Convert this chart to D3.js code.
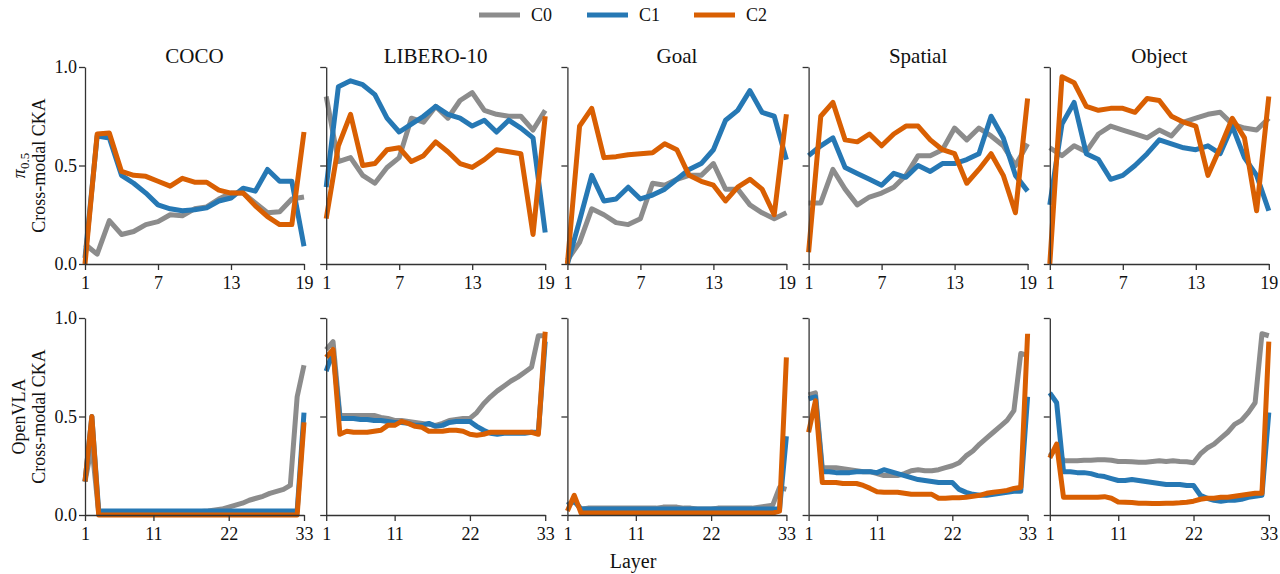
<!DOCTYPE html>
<html>
<head>
<meta charset="utf-8">
<script src="https://cdn.jsdelivr.net/npm/d3@7"></script>
<style>
  body { margin: 0; background: #fff; }
  svg text { font-family: "Liberation Serif", "DejaVu Serif", serif; }
</style>
</head>
<body>
<svg id="chart" width="1280" height="574"></svg>
<script>
// categories
const tasks = ["COCO", "LIBERO-10", "Goal", "Spatial", "Object"];
const series = ["C0", "C1", "C2"];
const colors = ["#8c8c8c", "#2678b4", "#d95f02"];
const piTicks = [1, 7, 13, 19];
const vlaTicks = [1, 11, 22, 33];
const yTicks = [0, 0.5, 1.0];

// pi0.5 row, layers 1..19
const piCocoC0 = [0.10, 0.05, 0.22, 0.15, 0.165, 0.20, 0.215, 0.25, 0.245, 0.28, 0.29, 0.33, 0.36, 0.36, 0.31, 0.26, 0.265, 0.33, 0.34];
const piCocoC1 = [0.03, 0.65, 0.64, 0.45, 0.41, 0.36, 0.30, 0.28, 0.27, 0.275, 0.285, 0.32, 0.335, 0.385, 0.37, 0.48, 0.42, 0.42, 0.09];
const piCocoC2 = [0.00, 0.66, 0.665, 0.47, 0.45, 0.445, 0.42, 0.395, 0.435, 0.415, 0.415, 0.375, 0.36, 0.36, 0.295, 0.24, 0.20, 0.20, 0.67];

const piLiberoC0 = [0.85, 0.52, 0.54, 0.45, 0.41, 0.49, 0.54, 0.74, 0.72, 0.80, 0.74, 0.83, 0.87, 0.78, 0.76, 0.75, 0.75, 0.68, 0.78];
const piLiberoC1 = [0.39, 0.90, 0.93, 0.91, 0.86, 0.74, 0.67, 0.71, 0.75, 0.80, 0.76, 0.74, 0.70, 0.73, 0.67, 0.73, 0.69, 0.64, 0.16];
const piLiberoC2 = [0.23, 0.60, 0.76, 0.50, 0.51, 0.58, 0.59, 0.52, 0.55, 0.62, 0.57, 0.51, 0.49, 0.53, 0.58, 0.57, 0.56, 0.15, 0.75];

const piGoalC0 = [0.02, 0.11, 0.28, 0.25, 0.21, 0.20, 0.23, 0.41, 0.40, 0.43, 0.45, 0.45, 0.51, 0.38, 0.38, 0.30, 0.26, 0.23, 0.26];
const piGoalC1 = [0.00, 0.22, 0.45, 0.32, 0.33, 0.39, 0.33, 0.35, 0.38, 0.43, 0.48, 0.51, 0.58, 0.73, 0.78, 0.88, 0.77, 0.75, 0.53];
const piGoalC2 = [0.00, 0.70, 0.79, 0.54, 0.545, 0.555, 0.56, 0.565, 0.61, 0.58, 0.45, 0.42, 0.40, 0.32, 0.39, 0.43, 0.38, 0.25, 0.76];

const piSpatialC0 = [0.31, 0.31, 0.48, 0.38, 0.30, 0.34, 0.36, 0.39, 0.45, 0.55, 0.55, 0.58, 0.69, 0.63, 0.69, 0.65, 0.60, 0.50, 0.61];
const piSpatialC1 = [0.55, 0.60, 0.64, 0.49, 0.46, 0.43, 0.40, 0.46, 0.44, 0.50, 0.47, 0.51, 0.51, 0.53, 0.56, 0.75, 0.64, 0.45, 0.37];
const piSpatialC2 = [0.06, 0.75, 0.82, 0.63, 0.62, 0.66, 0.60, 0.66, 0.70, 0.70, 0.63, 0.58, 0.56, 0.41, 0.48, 0.56, 0.45, 0.26, 0.84];

const piObjectC0 = [0.59, 0.55, 0.60, 0.57, 0.66, 0.70, 0.68, 0.66, 0.64, 0.68, 0.65, 0.72, 0.74, 0.76, 0.77, 0.71, 0.69, 0.68, 0.74];
const piObjectC1 = [0.30, 0.71, 0.82, 0.56, 0.53, 0.43, 0.45, 0.50, 0.56, 0.63, 0.61, 0.59, 0.58, 0.60, 0.56, 0.70, 0.54, 0.45, 0.27];
const piObjectC2 = [0.00, 0.95, 0.92, 0.80, 0.78, 0.79, 0.79, 0.77, 0.84, 0.83, 0.75, 0.72, 0.70, 0.45, 0.59, 0.74, 0.64, 0.27, 0.85];

// OpenVLA row, layers 1..33
const vlaCocoC0 = [0.17, 0.35, 0.01, 0.012, 0.012, 0.012, 0.012, 0.012, 0.012, 0.012,
  0.012, 0.012, 0.012, 0.012, 0.012, 0.012, 0.015, 0.018, 0.02, 0.025,
  0.03, 0.04, 0.05, 0.06, 0.075, 0.085, 0.095, 0.11, 0.12, 0.13,
  0.15, 0.60, 0.76];
const vlaCocoC1 = [0.17, 0.50, 0.02, 0.02, 0.02, 0.02, 0.02, 0.02, 0.02, 0.02,
  0.02, 0.02, 0.02, 0.02, 0.02, 0.02, 0.02, 0.02, 0.02, 0.02,
  0.02, 0.02, 0.02, 0.02, 0.02, 0.02, 0.02, 0.02, 0.02, 0.02,
  0.02, 0.02, 0.52];
const vlaCocoC2 = [0.17, 0.50, 0.00, 0.00, 0.00, 0.00, 0.00, 0.00, 0.00, 0.00,
  0.00, 0.00, 0.00, 0.00, 0.00, 0.00, 0.00, 0.00, 0.00, 0.00,
  0.00, 0.00, 0.00, 0.00, 0.00, 0.00, 0.00, 0.00, 0.00, 0.00,
  0.00, 0.00, 0.47];

const vlaLiberoC0 = [0.84, 0.88, 0.505, 0.505, 0.505, 0.505, 0.505, 0.505, 0.495, 0.49,
  0.48, 0.48, 0.475, 0.47, 0.465, 0.46, 0.455, 0.465, 0.48, 0.485,
  0.49, 0.49, 0.52, 0.565, 0.60, 0.63, 0.655, 0.68, 0.70, 0.725,
  0.75, 0.91, 0.91];
const vlaLiberoC1 = [0.73, 0.83, 0.49, 0.49, 0.49, 0.485, 0.485, 0.48, 0.48, 0.475,
  0.47, 0.47, 0.465, 0.455, 0.455, 0.465, 0.45, 0.455, 0.47, 0.475,
  0.475, 0.475, 0.45, 0.43, 0.415, 0.41, 0.415, 0.415, 0.415, 0.415,
  0.42, 0.42, 0.88];
const vlaLiberoC2 = [0.80, 0.84, 0.41, 0.425, 0.42, 0.42, 0.42, 0.425, 0.43, 0.455,
  0.455, 0.475, 0.465, 0.45, 0.445, 0.425, 0.425, 0.425, 0.43, 0.43,
  0.425, 0.41, 0.405, 0.41, 0.42, 0.42, 0.42, 0.42, 0.42, 0.42,
  0.42, 0.41, 0.93];

const vlaGoalC0 = [0.05, 0.07, 0.03, 0.035, 0.035, 0.035, 0.035, 0.035, 0.035, 0.035,
  0.035, 0.035, 0.035, 0.035, 0.04, 0.04, 0.04, 0.035, 0.035, 0.03,
  0.03, 0.03, 0.035, 0.035, 0.035, 0.035, 0.035, 0.035, 0.04, 0.045,
  0.05, 0.14, 0.13];
const vlaGoalC1 = [0.05, 0.07, 0.03, 0.03, 0.03, 0.03, 0.03, 0.03, 0.03, 0.03,
  0.03, 0.03, 0.03, 0.03, 0.03, 0.03, 0.03, 0.03, 0.03, 0.03,
  0.03, 0.03, 0.03, 0.03, 0.03, 0.03, 0.03, 0.03, 0.03, 0.03,
  0.03, 0.03, 0.40];
const vlaGoalC2 = [0.02, 0.10, 0.01, 0.01, 0.01, 0.01, 0.01, 0.01, 0.01, 0.01,
  0.01, 0.01, 0.01, 0.01, 0.01, 0.01, 0.01, 0.01, 0.01, 0.01,
  0.01, 0.01, 0.01, 0.01, 0.01, 0.01, 0.01, 0.01, 0.01, 0.01,
  0.01, 0.02, 0.80];

const vlaSpatialC0 = [0.61, 0.62, 0.24, 0.24, 0.24, 0.235, 0.23, 0.225, 0.22, 0.22,
  0.21, 0.20, 0.20, 0.20, 0.21, 0.225, 0.23, 0.225, 0.225, 0.23,
  0.24, 0.25, 0.265, 0.30, 0.325, 0.36, 0.39, 0.42, 0.45, 0.48,
  0.53, 0.82, 0.81];
const vlaSpatialC1 = [0.59, 0.60, 0.22, 0.22, 0.215, 0.215, 0.215, 0.22, 0.22, 0.22,
  0.215, 0.23, 0.22, 0.21, 0.20, 0.19, 0.18, 0.175, 0.17, 0.165,
  0.165, 0.165, 0.13, 0.115, 0.105, 0.10, 0.10, 0.105, 0.11, 0.115,
  0.12, 0.12, 0.60];
const vlaSpatialC2 = [0.42, 0.58, 0.165, 0.165, 0.165, 0.16, 0.16, 0.16, 0.15, 0.135,
  0.118, 0.115, 0.115, 0.115, 0.11, 0.105, 0.105, 0.105, 0.105, 0.085,
  0.085, 0.087, 0.087, 0.09, 0.095, 0.10, 0.11, 0.115, 0.12, 0.125,
  0.135, 0.14, 0.92];

const vlaObjectC0 = [0.30, 0.34, 0.275, 0.275, 0.275, 0.278, 0.278, 0.28, 0.28, 0.278,
  0.272, 0.272, 0.27, 0.268, 0.268, 0.272, 0.275, 0.272, 0.275, 0.272,
  0.27, 0.265, 0.31, 0.34, 0.36, 0.39, 0.42, 0.46, 0.48, 0.52,
  0.57, 0.92, 0.91];
const vlaObjectC1 = [0.62, 0.57, 0.22, 0.22, 0.215, 0.215, 0.21, 0.20, 0.195, 0.185,
  0.175, 0.175, 0.18, 0.175, 0.17, 0.165, 0.16, 0.155, 0.155, 0.155,
  0.15, 0.15, 0.10, 0.085, 0.075, 0.07, 0.075, 0.075, 0.08, 0.09,
  0.095, 0.10, 0.52];
const vlaObjectC2 = [0.29, 0.36, 0.09, 0.09, 0.09, 0.09, 0.09, 0.09, 0.093, 0.085,
  0.066, 0.065, 0.063, 0.06, 0.06, 0.058, 0.058, 0.06, 0.06, 0.062,
  0.065, 0.07, 0.08, 0.085, 0.085, 0.09, 0.09, 0.095, 0.10, 0.105,
  0.11, 0.11, 0.88];

const piRows = [
  [piCocoC0, piCocoC1, piCocoC2],
  [piLiberoC0, piLiberoC1, piLiberoC2],
  [piGoalC0, piGoalC1, piGoalC2],
  [piSpatialC0, piSpatialC1, piSpatialC2],
  [piObjectC0, piObjectC1, piObjectC2]
];
const vlaRows = [
  [vlaCocoC0, vlaCocoC1, vlaCocoC2],
  [vlaLiberoC0, vlaLiberoC1, vlaLiberoC2],
  [vlaGoalC0, vlaGoalC1, vlaGoalC2],
  [vlaSpatialC0, vlaSpatialC1, vlaSpatialC2],
  [vlaObjectC0, vlaObjectC1, vlaObjectC2]
];

const svg = d3.select("#chart");
const SERIF = "Liberation Serif";

// layout
const panelLeft = 85;
const panelStep = 241.2;
const panelW = 219;
const rowTop = [67, 318];
const panelH = 197;
const LINE_W = 5;

function drawPanel(col, row, data, nLayers, ticks) {
  const x0 = panelLeft + col * panelStep;
  const y0 = rowTop[row];
  const x = d3.scaleLinear().domain([1, nLayers]).range([x0, x0 + panelW]);
  const y = d3.scaleLinear().domain([0, 1]).range([y0 + panelH, y0]);
  const g = svg.append("g");

  const line = d3.line()
    .x((d, i) => x(i + 1))
    .y(d => y(d));

  data.forEach((vals, s) => {
    g.append("path")
      .datum(vals)
      .attr("d", line)
      .attr("fill", "none")
      .attr("stroke", colors[s])
      .attr("stroke-width", LINE_W)
      .attr("stroke-linejoin", "round");
  });

  const xAxis = g.append("g")
    .attr("transform", "translate(0," + (y0 + panelH) + ")")
    .call(d3.axisBottom(x).tickValues(ticks).tickSize(6).tickSizeOuter(0).tickFormat(d3.format("d")));
  const yAxis = g.append("g")
    .attr("transform", "translate(" + x0 + ",0)")
    .call(d3.axisLeft(y).tickValues(yTicks).tickSize(6).tickSizeOuter(0)
      .tickFormat(col == 0 ? d3.format(".1f") : ""));

  [xAxis, yAxis].forEach(a => {
    a.attr("font-family", SERIF).attr("font-size", 18);
    a.selectAll("path, line").attr("stroke", "#333").attr("stroke-width", 1.3);
    a.selectAll("text").attr("fill", "#111");
  });
  xAxis.selectAll("text").attr("dy", "0.9em");
  yAxis.selectAll("text").attr("x", -8);

  if (row == 0) {
    svg.append("text")
      .attr("x", x0 + panelW / 2)
      .attr("y", 63)
      .attr("text-anchor", "middle")
      .attr("font-family", SERIF)
      .attr("font-size", 21)
      .attr("fill", "#111")
      .text(tasks[col]);
  }
}

tasks.forEach((t, c) => {
  drawPanel(c, 0, piRows[c], 19, piTicks);
  drawPanel(c, 1, vlaRows[c], 33, vlaTicks);
});

// y labels
function yLabel(cy, first, useSub) {
  const t1 = svg.append("text")
    .attr("transform", "translate(25," + cy + ") rotate(-90)")
    .attr("text-anchor", "middle")
    .attr("font-family", SERIF)
    .attr("font-size", 18)
    .attr("fill", "#111");
  if (useSub) {
    t1.append("tspan").style("font-style", "italic").text("π");
    t1.append("tspan").attr("dy", 4).attr("font-size", 13).text("0.5");
  } else {
    t1.text(first);
  }
  svg.append("text")
    .attr("transform", "translate(45," + cy + ") rotate(-90)")
    .attr("text-anchor", "middle")
    .attr("font-family", SERIF)
    .attr("font-size", 18)
    .attr("fill", "#111")
    .text("Cross-modal CKA");
}
yLabel(rowTop[0] + panelH / 2, "", true);
yLabel(rowTop[1] + panelH / 2, "OpenVLA", false);

// x label
svg.append("text")
  .attr("x", 633)
  .attr("y", 568)
  .attr("text-anchor", "middle")
  .attr("font-family", SERIF)
  .attr("font-size", 20)
  .attr("fill", "#111")
  .text("Layer");

// legend
const legendX = [479, 587, 694];
series.forEach((s, i) => {
  svg.append("line")
    .attr("x1", legendX[i]).attr("x2", legendX[i] + 41)
    .attr("y1", 15).attr("y2", 15)
    .attr("stroke", colors[i])
    .attr("stroke-width", 5);
  svg.append("text")
    .attr("x", legendX[i] + 52)
    .attr("y", 21)
    .attr("font-family", SERIF)
    .attr("font-size", 18)
    .attr("fill", "#111")
    .text(s);
});
</script>
</body>
</html>
